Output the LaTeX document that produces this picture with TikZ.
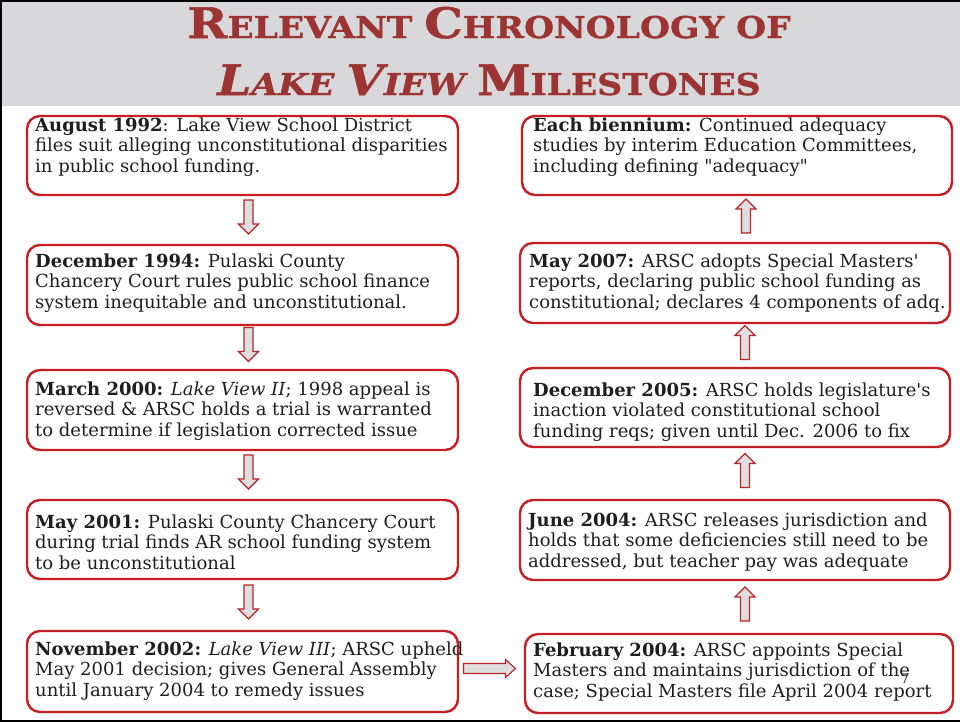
\documentclass[tikz,border=0pt]{standalone}
\usepackage{fontspec}
\setmainfont{DejaVu Serif}
\newfontfamily\bodyfont{DejaVu Serif}[FakeStretch=1.0]
\newfontfamily\titlefont{DejaVu Serif}[FakeStretch=1.15, FakeBold=1.2]
\usetikzlibrary{calc}
\definecolor{boxred}{RGB}{200,30,35}
\definecolor{arrowred}{RGB}{185,35,40}
\definecolor{titlered}{RGB}{155,52,50}
\definecolor{hdrgray}{RGB}{216,216,219}
\definecolor{arrowfill}{RGB}{222,222,222}
\definecolor{bodytxt}{RGB}{30,30,30}
\newcommand\capL[1]{{\fontsize{42}{42}\selectfont #1}}
\begin{document}
\begin{tikzpicture}[x=1pt,y=-1pt,
  box/.style={draw=boxred, line width=2.4pt, rounded corners=13pt, fill=white, inner sep=0pt},
  txtnode/.style={anchor=west, align=left, inner sep=0pt, text=bodytxt, font=\bodyfont\fontsize{18}{20.7}\selectfont},
  titlenode/.style={anchor=base, inner sep=0pt, text=titlered, font=\titlefont\bfseries\fontsize{30}{30}\selectfont},
  arrowstyle/.style={draw=arrowred, fill=arrowfill, line width=1.1pt, line join=miter},
  downarr/.pic={\draw[arrowstyle] (-4.5,-17) -- (4.5,-17) -- (4.5,7) -- (10,7) -- (0,17) -- (-10,7) -- (-4.5,7) -- cycle;},
  rightarr/.pic={\draw[arrowstyle] (-26,-5) -- (16,-5) -- (16,-9) -- (26,0) -- (16,9) -- (16,5) -- (-26,5) -- cycle;}
  ]
\useasboundingbox (0,0) rectangle (960,721);
\fill[white] (0,0) rectangle (960,721);
\fill[hdrgray] (0,0) rectangle (960,106);
\draw[line width=3pt] (0,721) -- (0,0) -- (960,0);
\draw[line width=3pt] (0,721) -- (960,721);

% title
\node[titlenode] (title1) at (489,38) {\capL{R}ELEVANT \capL{C}HRONOLOGY OF};
\node[titlenode] (title2) at (489,95) {\itshape\capL{L}AKE \capL{V}IEW\upshape\ \capL{M}ILESTONES};

% left column boxes
\node[box, minimum width=431, minimum height=79] (b1) at (242.5,155.5) {};
\node[box, minimum width=431, minimum height=80] (b2) at (242.5,285) {};
\node[box, minimum width=431, minimum height=80] (b3) at (242.5,410) {};
\node[box, minimum width=431, minimum height=79] (b4) at (242.5,539.5) {};
\node[box, minimum width=431, minimum height=81] (b5) at (242.5,671.5) {};
% right column boxes
\node[box, minimum width=430, minimum height=79] (r1) at (737,155.5) {};
\node[box, minimum width=430, minimum height=80] (r2) at (735,283) {};
\node[box, minimum width=430, minimum height=79] (r3) at (735,407.5) {};
\node[box, minimum width=430, minimum height=80] (r4) at (735,540) {};
\node[box, minimum width=428, minimum height=79] (r5) at (739,673.5) {};

% texts
\node[txtnode] (t1) at (35,147) {\textbf{August 1992}: Lake View School District\\files suit alleging unconstitutional disparities\\in public school funding.};
\node[txtnode] (t2) at (35,283) {\textbf{December 1994:} Pulaski County\\Chancery Court rules public school finance\\system inequitable and unconstitutional.};
\node[txtnode] (t3) at (35,411) {\textbf{March 2000:} \textit{Lake View II}; 1998 appeal is\\reversed \& ARSC holds a trial is warranted\\to determine if legislation corrected issue};
\node[txtnode] (t4) at (35,542) {\textbf{May 2001:} Pulaski County Chancery Court\\during trial finds AR school funding system\\to be unconstitutional};
\node[txtnode] (t5) at (35,671) {\textbf{November 2002:} \textit{Lake View III}; ARSC upheld\\May 2001 decision; gives General Assembly\\until January 2004 to remedy issues};
\node[txtnode] (s1) at (533,147) {\textbf{Each biennium:} Continued adequacy\\studies by interim Education Committees,\\including defining "adequacy"};
\node[txtnode] (s2) at (529,283) {\textbf{May 2007:} ARSC adopts Special Masters'\\reports, declaring public school funding as\\constitutional; declares 4 components of adq.};
\node[txtnode] (s3) at (533,412) {\textbf{December 2005:} ARSC holds legislature's\\inaction violated constitutional school\\funding reqs; given until Dec. 2006 to fix};
\node[txtnode] (s4) at (528,542) {\textbf{June 2004:} ARSC releases jurisdiction and\\holds that some deficiencies still need to be\\addressed, but teacher pay was adequate};
\node[txtnode] (s5) at (533,672) {\textbf{February 2004:} ARSC appoints Special\\Masters and maintains jurisdiction of the\\case; Special Masters file April 2004 report};

% arrows (connectors between boxes)
\coordinate (a1) at ($(b1.south)!0.5!(b2.north)+(6,-3)$);
\coordinate (a2) at ($(b2.south)!0.5!(b3.north)+(6,-3)$);
\coordinate (a3) at ($(b3.south)!0.5!(b4.north)+(6,-3)$);
\coordinate (a4) at ($(b4.south)!0.5!(b5.north)+(6,-3)$);
\coordinate (a5) at ($(b5.east)!0.5!(r5.west)+(-2,-4)$);
\coordinate (a6) at ($(r5.north)!0.5!(r4.south)+(8,-3)$);
\coordinate (a7) at ($(r4.north)!0.5!(r3.south)+(10,-3)$);
\coordinate (a8) at ($(r3.north)!0.5!(r2.south)+(10,-3)$);
\coordinate (a9) at ($(r2.north)!0.5!(r1.south)+(10,-3)$);
\pic at (a1) {downarr};
\pic at (a2) {downarr};
\pic at (a3) {downarr};
\pic at (a4) {downarr};
\pic at (a5) {rightarr};
\pic[rotate=180] at (a6) {downarr};
\pic[rotate=180] at (a7) {downarr};
\pic[rotate=180] at (a8) {downarr};
\pic[rotate=180] at (a9) {downarr};

% page number
\node[inner sep=0pt, text=bodytxt, font=\bodyfont\fontsize{13}{13}\selectfont] (pg) at (905,679) {7};
\end{tikzpicture}
\end{document}
